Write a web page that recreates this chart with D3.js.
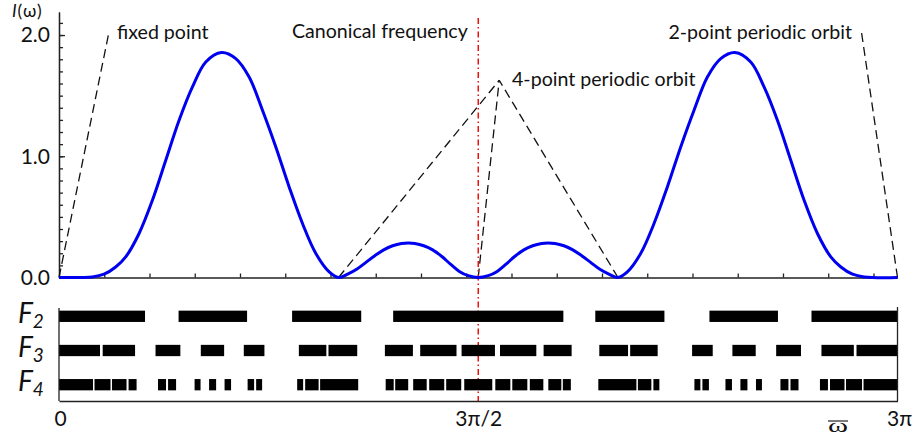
<!DOCTYPE html>
<html>
<head>
<meta charset="utf-8">
<script src="https://cdn.jsdelivr.net/npm/d3@7"></script>
<style>
  body { margin: 0; background: #fff; }
  svg { display: block; }
  text { font-family: Lato, "Open Sans", "DejaVu Sans", sans-serif; fill: #111; }
</style>
</head>
<body>
<svg id="chart" width="919" height="438"></svg>
<script>
// Spectral intensity I(ω) sampled over 0 … 3π
const omega = [0, 0.375, 0.506, 0.637, 0.750, 0.900, 1.050, 1.200, 1.350, 1.500, 1.650, 1.826,
  1.987, 2.137, 2.287, 2.437, 2.587, 2.737, 2.887, 3.037, 3.142,
  3.25, 3.35, 3.45, 3.55, 3.65, 3.75, 3.85, 3.93, 4.0, 4.1, 4.2, 4.3, 4.4, 4.5, 4.6, 4.712,
  4.825, 4.925, 5.025, 5.125, 5.225, 5.325, 5.425, 5.495, 5.575, 5.675, 5.775, 5.875, 5.975,
  6.075, 6.175, 6.283,
  6.388, 6.538, 6.688, 6.838, 6.988, 7.138, 7.288, 7.438, 7.599, 7.775, 7.925, 8.075,
  8.225, 8.375, 8.525, 8.675, 8.788, 8.919, 9.050, 9.425];
const intensity = [0, 0.005, 0.027, 0.087, 0.170, 0.363, 0.637, 0.967, 1.297, 1.572, 1.778, 1.856,
  1.806, 1.654, 1.380, 1.077, 0.747, 0.445, 0.198, 0.046, 0,
  0.03, 0.07, 0.125, 0.18, 0.228, 0.262, 0.281, 0.285, 0.281, 0.262, 0.228, 0.175, 0.11, 0.05, 0.015, 0,
  0.015, 0.05, 0.11, 0.175, 0.228, 0.262, 0.281, 0.285, 0.281, 0.262, 0.228, 0.18, 0.125,
  0.07, 0.03, 0,
  0.046, 0.198, 0.445, 0.747, 1.077, 1.380, 1.654, 1.806, 1.856, 1.778, 1.572, 1.297,
  0.967, 0.637, 0.363, 0.170, 0.087, 0.027, 0.005, 0];

// Frequency intervals [from, to] belonging to F2, F3, F4
const rowNames = ["F2", "F3", "F4"];
const f2Intervals = [[0, 0.967], [1.344, 2.114], [2.620, 3.397], [3.756, 5.669], [6.028, 6.805],
  [7.311, 8.081], [8.458, 9.425]];
const f3Intervals = [[0, 0.461], [0.491, 0.855], [1.085, 1.364], [1.594, 1.856], [2.077, 2.309],
  [2.696, 3.005], [3.029, 3.352], [3.663, 3.978], [4.060, 4.468], [4.525, 4.900],
  [4.957, 5.365], [5.447, 5.762], [6.073, 6.396], [6.420, 6.729], [7.116, 7.348],
  [7.569, 7.831], [8.061, 8.340], [8.570, 8.934], [8.964, 9.425]];
const f4Intervals = [[0, 0.382], [0.399, 0.579], [0.596, 0.759], [0.782, 0.872], [1.113, 1.203],
  [1.226, 1.316], [1.524, 1.591], [1.687, 1.766], [1.861, 1.934], [2.120, 2.193],
  [2.216, 2.283], [2.677, 2.744], [2.767, 2.918], [2.935, 3.363], [3.672, 3.762],
  [3.779, 3.925], [3.981, 4.133], [4.161, 4.330], [4.352, 4.521], [4.555, 4.870],
  [4.904, 5.073], [5.095, 5.264], [5.292, 5.444], [5.500, 5.646], [5.663, 5.753],
  [6.062, 6.490], [6.507, 6.658], [6.681, 6.748], [7.142, 7.209], [7.232, 7.305],
  [7.491, 7.564], [7.659, 7.738], [7.834, 7.901], [8.109, 8.199], [8.222, 8.312],
  [8.553, 8.643], [8.666, 8.829], [8.846, 9.026], [9.043, 9.425]];

// Guide lines to the periodic orbits (ω, I)
const fixedPointGuide = [[0, 0], [0.555, 2.0]];
const fourPointGuides = [
  [[3.142, 0], [4.948, 1.627]],
  [[4.712, 0], [4.948, 1.627]],
  [[6.283, 0], [4.948, 1.627]]
];
const twoPointGuide = [[9.425, 0], [9.020, 2.023]];
const canonicalFrequency = 3 * Math.PI / 2;

// Axis ticks and labels
const yMajorTicks = [0, 1, 2];
const yMajorLabels = ["0.0", "1.0", "2.0"];
const yMinorStep = 0.1;
const xMinorStep = 0.5086;
const xLabelValues = [0, 3 * Math.PI / 2, 3 * Math.PI];
const xLabelTexts = ["0", "3π/2", "3π"];

const svg = d3.select("#chart");
const x = d3.scaleLinear().domain([0, 3 * Math.PI]).range([59, 897.5]);
const y = d3.scaleLinear().domain([0, 2.19]).range([277.5, 12]);
const rowY = d3.scalePoint().domain(rowNames).range([316.3, 384.7]);
const barH = 11.3;
const axisColor = "#222";

// ---- upper panel: axes ----
const yMinor = d3.axisLeft(y)
  .tickValues(d3.range(yMinorStep, 2.15, yMinorStep))
  .tickSize(-4).tickSizeOuter(0).tickFormat("");
const yMajor = d3.axisLeft(y)
  .tickValues(yMajorTicks)
  .tickSize(-6).tickSizeOuter(0).tickPadding(9)
  .tickFormat((d, i) => yMajorLabels[i]);
const gy1 = svg.append("g").attr("transform", "translate(59,0)").call(yMinor);
const gy2 = svg.append("g").attr("transform", "translate(59,0)").call(yMajor);
[gy1, gy2].forEach(g => {
  g.selectAll("path, line").attr("stroke", axisColor).attr("stroke-width", 1.3);
});
gy2.selectAll("text").style("font-size", "21px").attr("fill", "#111").attr("font-family", null);

const xTop = d3.axisBottom(x)
  .tickValues(d3.range(1, 19).map(k => k * xMinorStep))
  .tickSize(-4).tickSizeOuter(0).tickFormat("");
const gxTop = svg.append("g").attr("transform", `translate(0,${y(0)})`).call(xTop);
gxTop.selectAll("path, line").attr("stroke", axisColor).attr("stroke-width", 1.3);

// y-axis title
svg.append("text").attr("x", 12).attr("y", 17).style("font-size", "17.5px")
  .attr("letter-spacing", 0.8)
  .html('<tspan font-style="italic">I</tspan>(ω)');

// ---- guide lines ----
const guideLine = d3.line().x(d => x(d[0])).y(d => y(d[1]));
const guides = [fixedPointGuide, ...fourPointGuides, twoPointGuide];
svg.append("g").selectAll("path").data(guides).join("path")
  .attr("d", guideLine)
  .attr("fill", "none").attr("stroke", "#111")
  .attr("stroke-width", 1.3).attr("stroke-dasharray", "9,5");

// canonical frequency marker
svg.append("line")
  .attr("x1", x(canonicalFrequency)).attr("x2", x(canonicalFrequency))
  .attr("y1", 18).attr("y2", 404)
  .attr("stroke", "#ee1111").attr("stroke-width", 1.5)
  .attr("stroke-dasharray", "6,3,1.5,3");

// ---- spectrum curve ----
const spectrum = omega.map((w, i) => [w, intensity[i]]);
svg.append("path").datum(spectrum)
  .attr("d", d3.line().x(d => x(d[0])).y(d => y(d[1])).curve(d3.curveCatmullRom.alpha(0.5)))
  .attr("fill", "none").attr("stroke", "#0000f0").attr("stroke-width", 3)
  .attr("stroke-linejoin", "round");

// ---- annotations ----
const annFont = "19.6px";
svg.append("text").attr("x", x(0.652)).attr("y", 39).style("font-size", annFont).text("fixed point");
svg.append("text").attr("x", 292).attr("y", 38).style("font-size", annFont).text("Canonical frequency");
svg.append("text").attr("x", 512).attr("y", 86).style("font-size", annFont).text("4-point periodic orbit");
svg.append("text").attr("x", 852).attr("y", 39).attr("text-anchor", "end").style("font-size", annFont)
  .text("2-point periodic orbit");

// ---- lower panel: interval bars ----
const rows = [
  { name: "F2", sub: "2", intervals: f2Intervals },
  { name: "F3", sub: "3", intervals: f3Intervals },
  { name: "F4", sub: "4", intervals: f4Intervals }
];
const gBars = svg.append("g");
rows.forEach(r => {
  gBars.append("g").selectAll("rect").data(r.intervals).join("rect")
    .attr("x", d => x(d[0]))
    .attr("width", d => x(d[1]) - x(d[0]))
    .attr("y", rowY(r.name) - barH / 2)
    .attr("height", barH)
    .attr("fill", "#000");
  const t = svg.append("text").attr("x", 18).attr("y", rowY(r.name) + 6.4)
    .attr("font-style", "italic").style("font-size", "28px");
  t.append("tspan").text("F");
  t.append("tspan").attr("dy", 4.8).style("font-size", "19px").text(r.sub);
});

// lower panel frame
const frame = svg.append("g").attr("stroke", axisColor).attr("stroke-width", 1.3);
frame.append("line").attr("x1", x(0)).attr("x2", x(0)).attr("y1", 308).attr("y2", 401);
frame.append("line").attr("x1", x(3 * Math.PI)).attr("x2", x(3 * Math.PI)).attr("y1", 307).attr("y2", 401);

const xBottom = d3.axisBottom(x)
  .tickValues(xLabelValues).tickSize(0).tickSizeOuter(0).tickPadding(10)
  .tickFormat((d, i) => xLabelTexts[i]);
const gxBottom = svg.append("g").attr("transform", "translate(0,401)").call(xBottom);
gxBottom.select("path").attr("stroke", axisColor).attr("stroke-width", 1.3);
gxBottom.selectAll("text").style("font-size", "21px").attr("fill", "#111").attr("font-family", null);
gxBottom.selectAll("text").filter((d, i) => i === 0).attr("dx", 1);
gxBottom.selectAll("text").filter((d, i) => i === 2).attr("dx", 1.5);

// ω̄ axis symbol: a wide ω with a bar over it
const omegaBar = svg.append("g").attr("transform", "translate(838,432)");
omegaBar.append("text").attr("text-anchor", "middle")
  .attr("transform", "scale(1.6,1)")
  .style("font-size", "19px").style("font-family", "'Liberation Serif', serif")
  .text("ω");
omegaBar.append("line").attr("x1", -10).attr("x2", 10).attr("y1", -11).attr("y2", -11)
  .attr("stroke", "#111").attr("stroke-width", 1.1);
</script>
</body>
</html>
